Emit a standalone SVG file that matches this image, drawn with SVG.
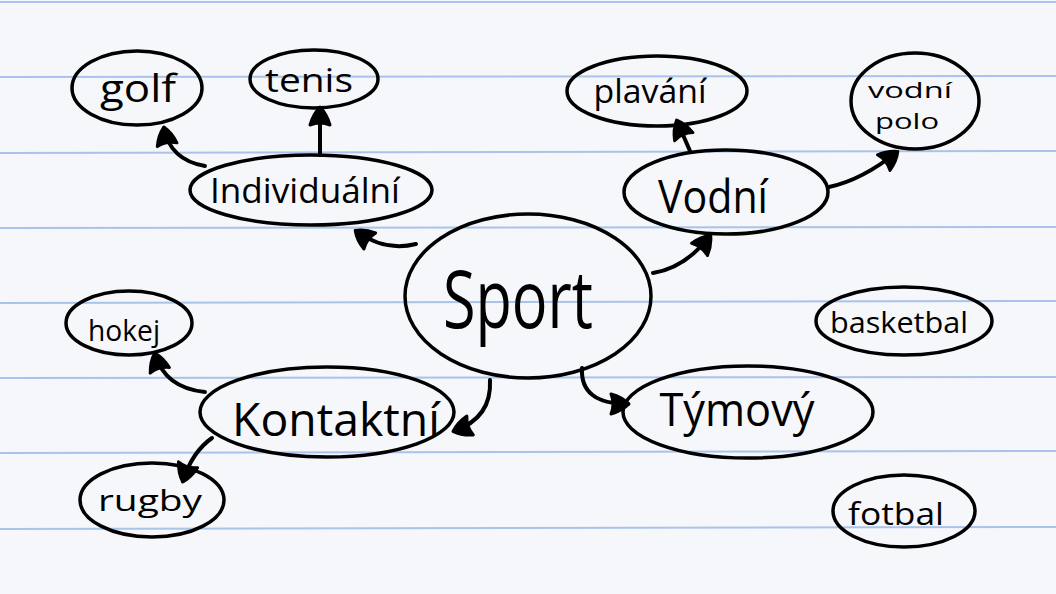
<svg xmlns="http://www.w3.org/2000/svg" width="1056" height="594" viewBox="0 0 1056 594">
<style>
.bg{fill:#f6f7fb}
.rule{stroke:#a9c3ea;stroke-width:2}
.node{fill:none;stroke:#000;stroke-width:3.5}
.lbl{font-family:"Open Sans","Liberation Sans",sans-serif;fill:#000;text-anchor:middle}
.edge{fill:none;stroke:#000;stroke-width:4;stroke-linecap:round}
</style>
<defs>
<marker id="ah" viewBox="0 0 24 24" refX="20" refY="12" markerWidth="24" markerHeight="24" markerUnits="userSpaceOnUse" orient="auto">
<path d="M3,2 Q14,5 21,12 Q14,19 3,22 Q7,12 3,2 Z" fill="#000" stroke="#000" stroke-width="3" stroke-linejoin="round"/>
</marker>
</defs>
<rect class="bg" x="0" y="0" width="1056" height="594"/>
<g id="paper">
<line class="rule" x1="0" y1="2" x2="1056" y2="2"/>
<line class="rule" x1="0" y1="77" x2="1056" y2="76"/>
<line class="rule" x1="0" y1="153" x2="1056" y2="151"/>
<line class="rule" x1="0" y1="228" x2="1056" y2="227"/>
<line class="rule" x1="0" y1="303" x2="1056" y2="301"/>
<line class="rule" x1="0" y1="378" x2="1056" y2="377"/>
<line class="rule" x1="0" y1="453" x2="1056" y2="451"/>
<line class="rule" x1="0" y1="529" x2="1056" y2="527"/>
</g>
<g id="connectors">
<path class="edge" d="M205,166 Q170,160 164,128" marker-end="url(#ah)"/>
<path class="edge" d="M320,155 L320,108" marker-end="url(#ah)"/>
<path class="edge" d="M416,244 Q385,252 356,231" marker-end="url(#ah)"/>
<path class="edge" d="M690,151 L677,121" marker-end="url(#ah)"/>
<path class="edge" d="M829,187 Q862,180 897,152" marker-end="url(#ah)"/>
<path class="edge" d="M653,273 Q685,268 710,236" marker-end="url(#ah)"/>
<path class="edge" d="M205,392 Q165,388 155,354" marker-end="url(#ah)"/>
<path class="edge" d="M212,438 Q192,452 183,481" marker-end="url(#ah)"/>
<path class="edge" d="M490,380 Q492,418 454,431" marker-end="url(#ah)"/>
<path class="edge" d="M582,368 Q580,404 628,404" marker-end="url(#ah)"/>
</g>
<g id="sport">
<ellipse class="node" cx="528" cy="296" rx="123" ry="82"/>
<text class="lbl" x="518" y="328" font-size="80" textLength="150" lengthAdjust="spacingAndGlyphs">Sport</text>
</g>
<g id="individualni">
<ellipse class="node" cx="311" cy="190" rx="121" ry="35"/>
<text class="lbl" x="305" y="203" font-size="34" textLength="190" lengthAdjust="spacingAndGlyphs">Individuální</text>
</g>
<g id="golf">
<ellipse class="node" cx="137" cy="88" rx="65" ry="37"/>
<text class="lbl" x="138" y="102" font-size="38" textLength="76" lengthAdjust="spacingAndGlyphs">golf</text>
</g>
<g id="tenis">
<ellipse class="node" cx="314" cy="79" rx="64" ry="29"/>
<text class="lbl" x="309" y="92" font-size="32" textLength="88" lengthAdjust="spacingAndGlyphs">tenis</text>
</g>
<g id="vodni">
<ellipse class="node" cx="726" cy="192" rx="102" ry="42"/>
<text class="lbl" x="713" y="213" font-size="46" textLength="110" lengthAdjust="spacingAndGlyphs">Vodní</text>
</g>
<g id="plavani">
<ellipse class="node" cx="657" cy="91" rx="90" ry="35"/>
<text class="lbl" x="650" y="103" font-size="32" textLength="113" lengthAdjust="spacingAndGlyphs">plavání</text>
</g>
<g id="vodnipolo">
<ellipse class="node" cx="915" cy="101" rx="64" ry="48"/>
<text class="lbl" x="910" y="98" font-size="22" textLength="84" lengthAdjust="spacingAndGlyphs">vodní</text>
<text class="lbl" x="907" y="129" font-size="22" textLength="64" lengthAdjust="spacingAndGlyphs">polo</text>
</g>
<g id="kontaktni">
<ellipse class="node" cx="327" cy="412" rx="127" ry="45"/>
<text class="lbl" x="336" y="436" font-size="46" textLength="208" lengthAdjust="spacingAndGlyphs">Kontaktní</text>
</g>
<g id="hokej">
<ellipse class="node" cx="129" cy="323" rx="63" ry="32"/>
<text class="lbl" x="124" y="341" font-size="29" textLength="72" lengthAdjust="spacingAndGlyphs">hokej</text>
</g>
<g id="rugby">
<ellipse class="node" cx="152" cy="500" rx="72" ry="37"/>
<text class="lbl" x="150" y="511" font-size="30" textLength="104" lengthAdjust="spacingAndGlyphs">rugby</text>
</g>
<g id="tymovy">
<ellipse class="node" cx="748" cy="412" rx="125" ry="46"/>
<text class="lbl" x="737" y="426" font-size="46" textLength="155" lengthAdjust="spacingAndGlyphs">Týmový</text>
</g>
<g id="basketbal">
<ellipse class="node" cx="904" cy="321" rx="88" ry="34"/>
<text class="lbl" x="899" y="333" font-size="29" textLength="138" lengthAdjust="spacingAndGlyphs">basketbal</text>
</g>
<g id="fotbal">
<ellipse class="node" cx="904" cy="511" rx="71" ry="36"/>
<text class="lbl" x="896" y="525" font-size="31" textLength="96" lengthAdjust="spacingAndGlyphs">fotbal</text>
</g>
</svg>
